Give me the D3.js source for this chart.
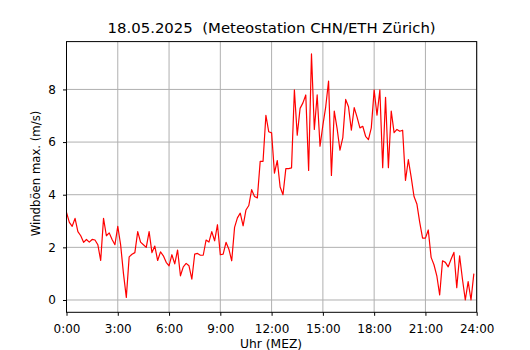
<!DOCTYPE html>
<html>
<head>
<meta charset="utf-8">
<script src="https://cdn.jsdelivr.net/npm/d3@7"></script>
<style>
    body { margin: 0; background: #fff; }
    svg { display: block; font-family: "DejaVu Sans", sans-serif; }
    .grid line { stroke: #b0b0b0; stroke-width: 1; }
    .axis text { font-size: 12px; fill: #000; }
    .axis path, .axis line { stroke: #000; stroke-width: 1; }
</style>
</head>
<body>
<svg id="chart" width="530" height="350"></svg>
<script>
// 10-minute gust maxima (m/s), starting 0:00
const gusts = [
    3.33, 2.95, 2.8, 3.1, 2.6, 2.44, 2.19, 2.3, 2.2, 2.3, 2.28, 2.1,
    1.5, 3.1, 2.44, 2.55, 2.3, 2.1, 2.8, 2.1, 1.0, 0.1, 1.64, 1.74,
    1.8, 2.6, 2.2, 2.1, 2.0, 2.6, 1.8, 2.05, 1.5, 1.83, 1.68, 1.43,
    1.3, 1.72, 1.37, 1.9, 0.92, 1.26, 1.39, 1.3, 0.79, 1.74, 1.77, 1.7,
    1.7, 2.28, 2.2, 2.6, 2.25, 2.86, 1.72, 1.74, 2.19, 1.93, 1.49, 2.76,
    3.12, 3.3, 2.82, 3.42, 3.59, 4.19, 3.93, 3.88, 5.27, 5.27, 7.02, 6.39,
    6.35, 4.82, 5.3, 4.29, 4.0, 4.99, 4.99, 5.02, 7.98, 6.26, 7.28, 7.49,
    7.79, 4.92, 9.35, 6.48, 7.79, 5.84, 6.64, 7.34, 8.32, 4.73, 7.18, 6.51,
    5.69, 6.17, 7.62, 7.34, 6.45, 7.31, 6.95, 6.54, 6.6, 6.22, 6.09, 6.54,
    7.98, 7.02, 7.98, 5.03, 7.7, 5.03, 7.18, 6.36, 6.48, 6.41, 6.45, 4.54,
    5.33, 4.67, 3.93, 3.65, 2.95, 2.35, 2.35, 2.66, 1.62, 1.34, 0.92, 0.19,
    1.49, 1.43, 1.26, 1.55, 1.81, 0.47, 1.68, 0.79, 0.0, 0.7, 0.0, 1.0
];
const hourTicks = [0, 3, 6, 9, 12, 15, 18, 21, 24];
const yTicks = [0, 2, 4, 6, 8];
const title = "18.05.2025  (Meteostation CHN/ETH Zürich)";
const xLabel = "Uhr (MEZ)";
const yLabel = "Windböen max. (m/s)";

const margin = { top: 41.6, right: 53.3, bottom: 37.7, left: 66.5 };
const W = 530, H = 350;

const svg = d3.select("#chart");

const x = d3.scaleLinear()
        .domain([0, 24])
        .range([margin.left, W - margin.right]);

let [lo, hi] = d3.extent(gusts);
let pad = (hi - lo) * 0.05;
const y = d3.scaleLinear()
        .domain([lo - pad, hi + pad])
        .range([H - margin.bottom, margin.top]);

// grid
const grid = svg.append("g").attr("class", "grid");
grid.selectAll("line.v")
        .data(hourTicks)
        .join("line")
                .attr("x1", d => x(d)).attr("x2", d => x(d))
                .attr("y1", margin.top).attr("y2", H - margin.bottom);
grid.selectAll("line.h")
        .data(yTicks)
        .join("line")
                .attr("x1", margin.left).attr("x2", W - margin.right)
                .attr("y1", d => y(d)).attr("y2", d => y(d));

// data line
const line = d3.line()
        .x((d, i) => x(i / 6))
        .y(d => y(d));

svg.append("path")
        .datum(gusts)
        .attr("fill", "none")
        .attr("stroke", "#ff0000")
        .attr("stroke-width", 1.2)
        .attr("stroke-linejoin", "round")
        .attr("d", line);

// frame
svg.append("rect")
        .attr("x", margin.left).attr("y", margin.top)
        .attr("width", W - margin.left - margin.right)
        .attr("height", H - margin.top - margin.bottom)
        .attr("fill", "none")
        .attr("stroke", "#000")
        .attr("stroke-width", 1);

// axes
svg.append("g")
        .attr("class", "axis")
        .attr("transform", `translate(0, ${H - margin.bottom})`)
        .call(d3.axisBottom(x)
                .tickValues(hourTicks)
                .tickSize(3.5)
                .tickPadding(8.7)
                .tickFormat(d => `${d}:00`))
        .call(g => g.select(".domain").remove());

svg.append("g")
        .attr("class", "axis")
        .attr("transform", `translate(${margin.left}, 0)`)
        .call(d3.axisLeft(y)
                .tickValues(yTicks)
                .tickSize(3.5)
                .tickPadding(7.2))
        .call(g => g.select(".domain").remove());

svg.selectAll(".axis text").attr("font-family", "DejaVu Sans");

// labels
svg.append("text")
        .attr("x", (margin.left + W - margin.right) / 2)
        .attr("y", 33.3)
        .attr("text-anchor", "middle")
        .attr("font-size", 14.9)
        .style("white-space", "pre")
        .text(title);

svg.append("text")
        .attr("x", (margin.left + W - margin.right) / 2 - 0.5)
        .attr("y", 347.6)
        .attr("text-anchor", "middle")
        .attr("font-size", 12.3)
        .text(xLabel);

svg.append("text")
        .attr("transform", `translate(40, 173.5) rotate(-90)`)
        .attr("text-anchor", "middle")
        .attr("font-size", 11.7)
        .text(yLabel);
</script>
</body>
</html>
